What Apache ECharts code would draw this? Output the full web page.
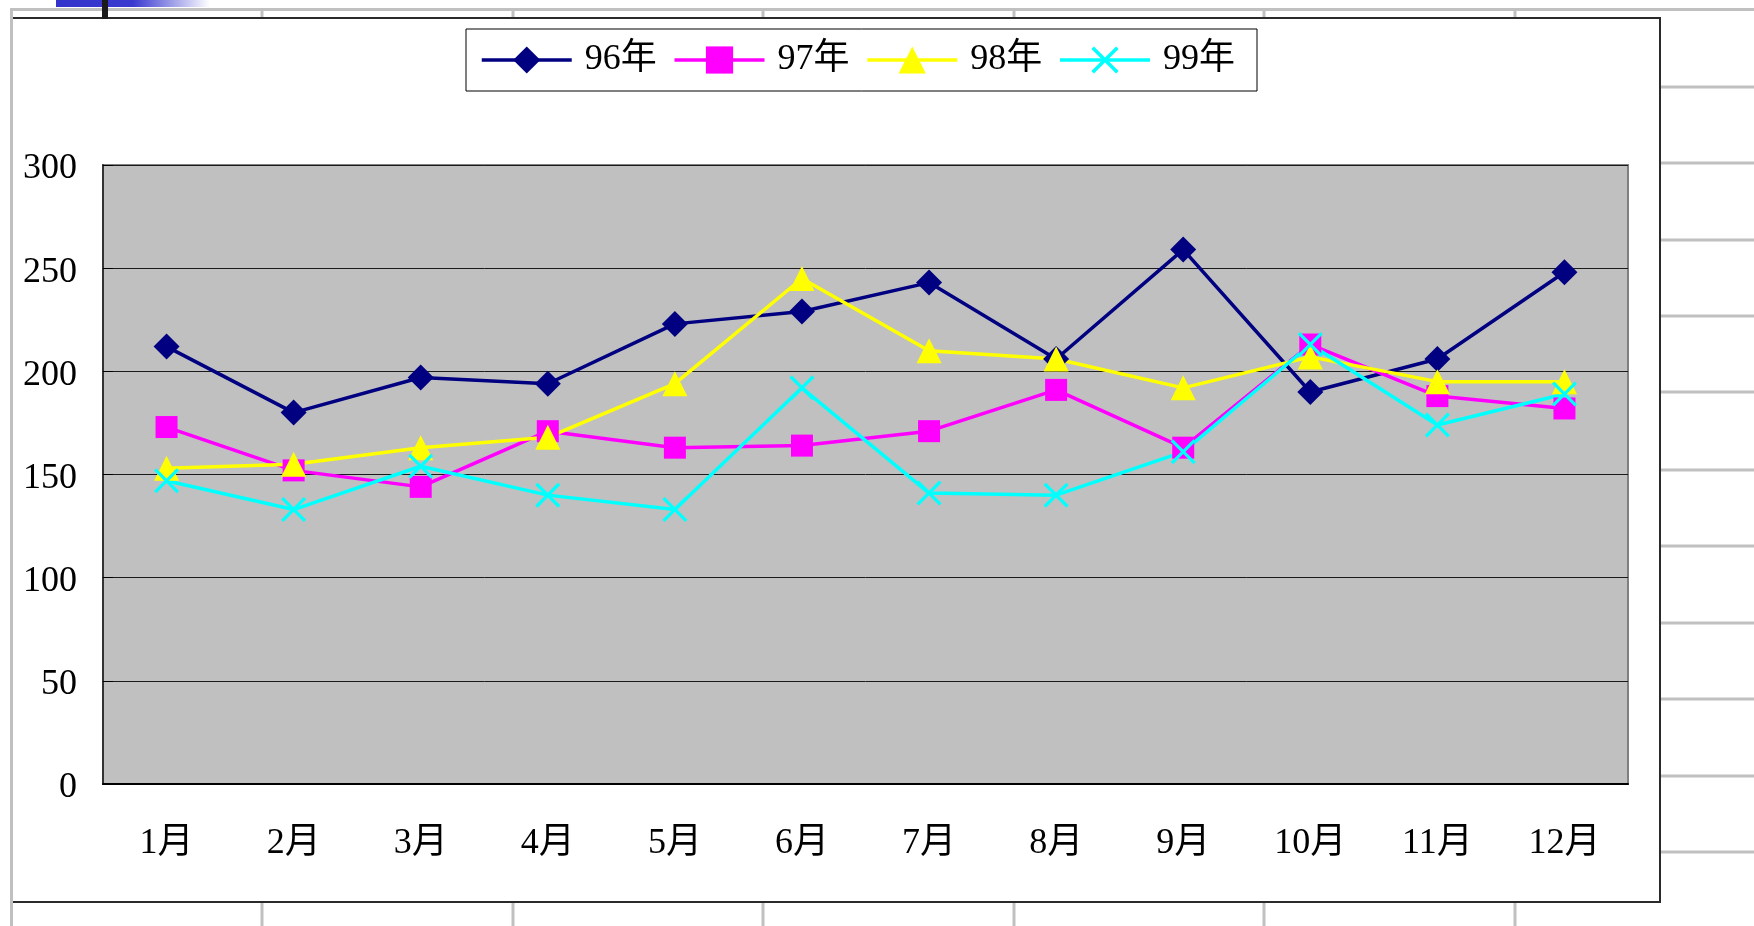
<!DOCTYPE html>
<html>
<head>
<meta charset="utf-8">
<script src="https://cdn.jsdelivr.net/npm/echarts@6/dist/echarts.min.js"></script>
<style>
  html, body { margin: 0; padding: 0; background: #fff; }
  #main { width: 1754px; height: 926px; }
</style>
</head>
<body>
<div id="main"></div>
<script>
// 資料
const months = ['1月', '2月', '3月', '4月', '5月', '6月', '7月', '8月', '9月', '10月', '11月', '12月'];
const y96 = [212, 180, 197, 194, 223, 229, 243, 206, 259, 190, 206, 248];
const y97 = [173, 152, 144, 171, 163, 164, 171, 191, 163, 213, 188, 182];
const y98 = [153, 155, 163, 168, 194, 245, 210, 206, 192, 207, 195, 195];
const y99 = [147, 133, 154, 140, 133, 192, 141, 140, 161, 213, 174, 189];
const yTicks = [0, 50, 100, 150, 200, 250, 300];

const FONT = "'Liberation Serif', 'Noto Sans CJK TC', serif";
// X 形標記 (實心路徑)
const CROSS = 'path://M0,2.2 L2.2,0 L12,9.8 L21.8,0 L24,2.2 L14.2,12 L24,21.8 L21.8,24 L12,14.2 L2.2,24 L0,21.8 L9.8,12 Z';

const chart = echarts.init(document.getElementById('main'));

// ---- 背景: 試算表格線與圖表外框 ----
const cellX = [262, 513, 763, 1014, 1264, 1515];
const rowY = [87, 163, 240, 316, 392, 470, 546, 623, 699, 776, 852];
const gray = { stroke: '#c0c0c0', lineWidth: 3 };
const deco = [];
deco.push({ type: 'rect', z: -20, shape: { x: 12, y: 18, width: 1648, height: 884 },
  style: { fill: '#fff', stroke: '#2a2a2a', lineWidth: 2 } });
deco.push({ type: 'line', z: -19, shape: { x1: 11, y1: 9.5, x2: 1754, y2: 9.5 }, style: gray });
deco.push({ type: 'line', z: -19, shape: { x1: 11.5, y1: 8, x2: 11.5, y2: 926 }, style: gray });
cellX.forEach(x => {
  deco.push({ type: 'line', z: -19, shape: { x1: x, y1: 9, x2: x, y2: 17 }, style: gray });
  deco.push({ type: 'line', z: -19, shape: { x1: x, y1: 903, x2: x, y2: 926 }, style: gray });
});
rowY.forEach(y => {
  deco.push({ type: 'line', z: -19, shape: { x1: 1661, y1: y, x2: 1754, y2: y }, style: gray });
});
deco.push({ type: 'rect', z: -18, shape: { x: 56, y: 0, width: 154, height: 7 },
  style: { fill: new echarts.graphic.LinearGradient(0, 0, 1, 0, [
    { offset: 0, color: '#3333cc' }, { offset: 0.5, color: '#3a3ad0' }, { offset: 1, color: '#ffffff' }]) } });
deco.push({ type: 'rect', z: -18, shape: { x: 102, y: 0, width: 6, height: 19 }, style: { fill: '#1a1a1a' } });

function lineSeries(name, data, color, symbol, size) {
  return {
    name, type: 'line', data,
    symbol, symbolSize: size,
    lineStyle: { color, width: 3.5 },
    itemStyle: { color, borderWidth: 0 },
    emphasis: { disabled: true },
    animation: false
  };
}

const option = {
  backgroundColor: '#ffffff',
  animation: false,
  graphic: { elements: deco },
  legend: {
    left: 466, top: 29,
    padding: [12, 22, 12, 14],
    borderColor: '#000', borderWidth: 1,
    backgroundColor: '#fff',
    itemWidth: 90, itemHeight: 34, itemGap: 16,
    lineStyle: { width: 3.5 },
    textStyle: { fontFamily: FONT, fontSize: 36, color: '#000', lineHeight: 38, padding: [0, 0, 0, 8] },
    data: ['96年', '97年', '98年', '99年']
  },
  grid: {
    left: 103, right: 126, top: 165, bottom: 142,
    show: true, backgroundColor: '#c0c0c0',
    borderColor: '#808080', borderWidth: 2
  },
  xAxis: {
    type: 'category', data: months, boundaryGap: true,
    axisLine: { lineStyle: { color: '#000', width: 2 } },
    axisTick: { inside: true, length: 10, lineStyle: { color: '#333', width: 1.5 } },
    axisLabel: { fontFamily: FONT, fontSize: 36, color: '#000', margin: 42 },
    splitLine: { show: false }
  },
  yAxis: {
    type: 'value', min: yTicks[0], max: yTicks[yTicks.length - 1], interval: 50,
    axisLine: { show: true, lineStyle: { color: '#333', width: 2 } },
    axisTick: { show: true, inside: true, length: 10, lineStyle: { color: '#000' } },
    axisLabel: { fontFamily: FONT, fontSize: 36, color: '#000', margin: 26, verticalAlign: 'top', lineHeight: 8 },
    splitLine: { lineStyle: { color: '#1a1a1a', width: 1 } }
  },
  series: [
    lineSeries('96年', y96, '#000080', 'diamond', 26),
    lineSeries('97年', y97, '#ff00ff', 'rect', 22),
    lineSeries('98年', y98, '#ffff00', 'triangle', 25),
    lineSeries('99年', y99, '#00ffff', CROSS, 25)
  ]
};
chart.setOption(option);
</script>
</body>
</html>
